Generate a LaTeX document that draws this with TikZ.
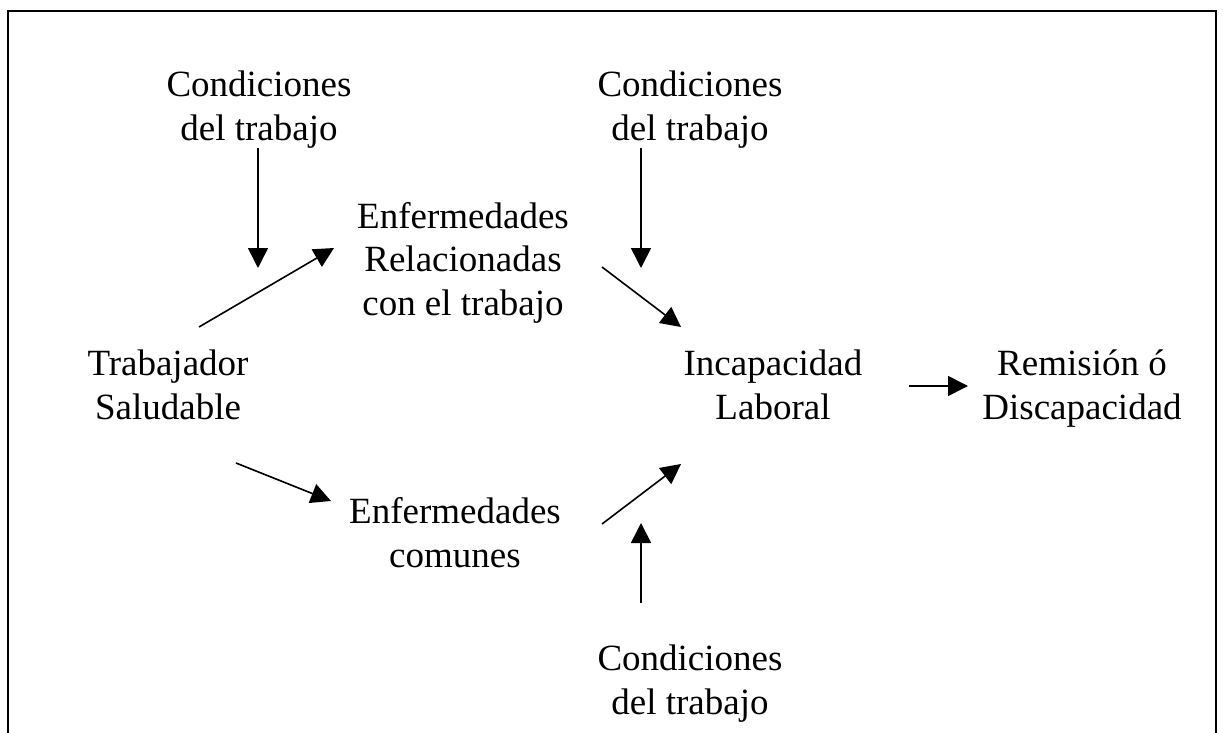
\documentclass[tikz,border=0pt]{standalone}
\usepackage{fontspec}
\setmainfont{Liberation Serif}
\usetikzlibrary{arrows.meta}
\tikzset{
  lbl/.style={align=center, font=\fontsize{37}{43.5}\selectfont, inner sep=0pt},
  arr/.style={line width=1.6pt, -{Triangle[length=20pt,width=20pt]}},
}
\begin{document}
\begin{tikzpicture}[x=1pt,y=-1pt]
\useasboundingbox (0,0) rectangle (1223,733);
\draw[line width=2.5pt] (8,733) -- (8,11) -- (1216,11) -- (1216,733);
\node[lbl] (c1) at (259,110) {\strut Condiciones\\del trabajo\strut};
\node[lbl] (c2) at (690,110) {\strut Condiciones\\del trabajo\strut};
\node[lbl] (erel) at (463,263) {\strut Enfermedades\\Relacionadas\\con el trabajo\strut};
\node[lbl] (ts) at (168,389) {\strut Trabajador\\Saludable\strut};
\node[lbl] (il) at (773,389) {\strut Incapacidad\\Laboral\strut};
\node[lbl] (rd) at (1082,389) {\strut Remisión ó\\Discapacidad\strut};
\node[lbl] (ec) at (455,537) {\strut Enfermedades\\comunes\strut};
\node[lbl] (c3) at (690,684) {\strut Condiciones\\del trabajo\strut};
\coordinate (a1s) at (258,148); \coordinate (a1e) at (258,268);
\coordinate (a2s) at (199,327); \coordinate (a2e) at (334,248);
\coordinate (a3s) at (641,148); \coordinate (a3e) at (641,268);
\coordinate (a4s) at (602,267); \coordinate (a4e) at (681,327);
\coordinate (a5s) at (602,524); \coordinate (a5e) at (681,464);
\coordinate (a6s) at (641,603); \coordinate (a6e) at (641,523);
\coordinate (a7s) at (909,386); \coordinate (a7e) at (968,386);
\coordinate (a8s) at (236,463); \coordinate (a8e) at (331,501);
\draw[arr] (a1s) -- (a1e);
\draw[arr] (a2s) -- (a2e);
\draw[arr] (a3s) -- (a3e);
\draw[arr] (a4s) -- (a4e);
\draw[arr] (a5s) -- (a5e);
\draw[arr] (a6s) -- (a6e);
\draw[arr] (a7s) -- (a7e);
\draw[arr] (a8s) -- (a8e);
\end{tikzpicture}
\end{document}
